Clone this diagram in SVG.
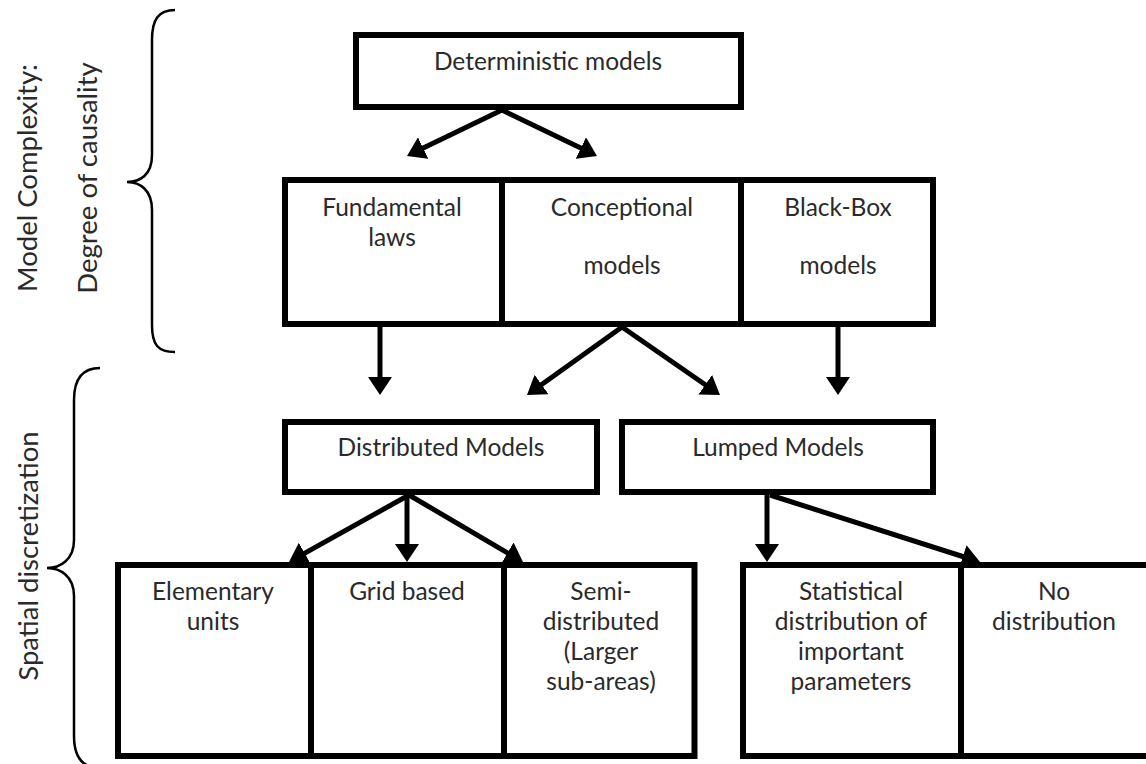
<svg xmlns="http://www.w3.org/2000/svg" width="1146" height="764" viewBox="0 0 1146 764">
  <style>
    .box { fill: #ffffff; stroke: #000000; stroke-width: 6; }
    .div { stroke: #000000; stroke-width: 6; }
    .lbl { font-family: Lato, "Liberation Sans", sans-serif; font-size: 24.5px; fill: #2a2a2a; text-anchor: middle; }
    .side { font-size: 27.5px; }
    .brace { fill: none; stroke: #000000; stroke-width: 2.5; }
    .conn line { stroke: #000000; stroke-width: 5; marker-end: url(#ah); }
  </style>
  <defs>
    <marker id="ah" viewBox="0 0 18 24" refX="8" refY="12" markerWidth="18" markerHeight="24" markerUnits="userSpaceOnUse" orient="auto">
      <path d="M0,0 L18,12 L0,24 z" fill="#000000"/>
    </marker>
  </defs>
  <rect width="1146" height="764" fill="#ffffff"/>

  <!-- side braces and axis labels -->
  <g id="axis-causality">
    <path class="brace" d="M175,10 C158,10 152,20 152,40 L152,155 C152,175 140,182 127,182 C140,182 152,190 152,210 L152,325 C152,345 158,352 175,352"/>
    <text class="lbl side" transform="translate(37,178) rotate(-90)">Model Complexity:</text>
    <text class="lbl side" transform="translate(97,178) rotate(-90)">Degree of causality</text>
  </g>
  <g id="axis-spatial">
    <path class="brace" d="M100,368 C82,368 74,380 74,400 L74,540 C74,560 60,568 47,568 C60,568 74,576 74,596 L74,736 C74,756 82,768 100,768"/>
    <text class="lbl side" transform="translate(38,556) rotate(-90)">Spatial discretization</text>
  </g>

  <!-- top level -->
  <g id="deterministic">
    <rect class="box" x="356" y="35" width="385" height="72"/>
    <text class="lbl" x="548" y="70">Deterministic models</text>
  </g>

  <!-- degree of causality row -->
  <g id="causality-row">
    <rect class="box" x="285" y="180" width="648" height="144"/>
    <line class="div" x1="502" y1="180" x2="502" y2="324"/>
    <line class="div" x1="741" y1="180" x2="741" y2="324"/>
  </g>
  <g id="fundamental">
    <text class="lbl" x="392" y="216">Fundamental</text>
    <text class="lbl" x="392" y="246">laws</text>
  </g>
  <g id="conceptional">
    <text class="lbl" x="622" y="216">Conceptional</text>
    <text class="lbl" x="622" y="274">models</text>
  </g>
  <g id="blackbox">
    <text class="lbl" x="838" y="216">Black-Box</text>
    <text class="lbl" x="838" y="274">models</text>
  </g>

  <!-- spatial discretization -->
  <g id="distributed">
    <rect class="box" x="285" y="422" width="312" height="70"/>
    <text class="lbl" x="441" y="456">Distributed Models</text>
  </g>
  <g id="lumped">
    <rect class="box" x="622" y="422" width="311" height="70"/>
    <text class="lbl" x="778" y="456">Lumped Models</text>
  </g>

  <g id="distributed-row">
    <rect class="box" x="118" y="565" width="576.5" height="191"/>
    <line class="div" x1="311" y1="565" x2="311" y2="756"/>
    <line class="div" x1="504" y1="565" x2="504" y2="756"/>
  </g>
  <g id="elementary">
    <text class="lbl" x="213" y="600">Elementary</text>
    <text class="lbl" x="213" y="630">units</text>
  </g>
  <g id="grid">
    <text class="lbl" x="407" y="600">Grid based</text>
  </g>
  <g id="semi">
    <text class="lbl" x="601" y="600">Semi-</text>
    <text class="lbl" x="601" y="630">distributed</text>
    <text class="lbl" x="601" y="660">(Larger</text>
    <text class="lbl" x="601" y="690">sub-areas)</text>
  </g>

  <g id="lumped-row">
    <rect class="box" x="743" y="565" width="420" height="191"/>
    <line class="div" x1="961" y1="565" x2="961" y2="756"/>
  </g>
  <g id="statistical">
    <text class="lbl" x="851" y="600">Statistical</text>
    <text class="lbl" x="851" y="630">distribution of</text>
    <text class="lbl" x="851" y="660">important</text>
    <text class="lbl" x="851" y="690">parameters</text>
  </g>
  <g id="nodistribution">
    <text class="lbl" x="1054" y="600">No</text>
    <text class="lbl" x="1054" y="630">distribution</text>
  </g>

  <!-- connectors -->
  <g id="connectors" class="conn">
    <line x1="502" y1="110" x2="416" y2="151.6"/>
    <line x1="502" y1="110" x2="588" y2="151.6"/>
    <line x1="380" y1="327" x2="380" y2="385"/>
    <line x1="622" y1="327" x2="535.1" y2="389.2"/>
    <line x1="622" y1="327" x2="711.8" y2="389.3"/>
    <line x1="838" y1="327" x2="838" y2="385"/>
    <line x1="409" y1="495" x2="297.7" y2="557.1"/>
    <line x1="407" y1="495" x2="407" y2="552"/>
    <line x1="409" y1="495" x2="514.4" y2="556.9"/>
    <line x1="767" y1="495" x2="767" y2="552"/>
    <line x1="770" y1="495" x2="970.5" y2="559"/>
  </g>
</svg>
